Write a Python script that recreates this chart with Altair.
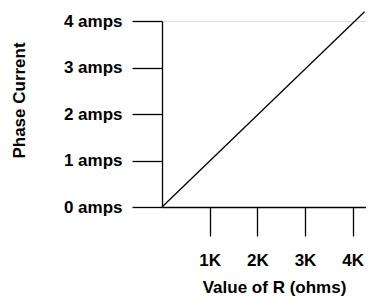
import altair as alt
import pandas as pd

# data
r_kohm = [0.0, 4.25]
current_amps = [0.0, 4.2]
x_ticks = [1, 2, 3, 4]
x_tick_labels = ["1K", "2K", "3K", "4K"]
y_ticks = [0, 1, 2, 3, 4]

df = pd.DataFrame({"r": r_kohm, "amps": current_amps})

FONT = "Liberation Sans"

x_label_expr = "{" + ",".join(f"'{t}':'{l}'" for t, l in zip(x_ticks, x_tick_labels)) + "}[datum.value]"

chart = alt.Chart(df).mark_line(color="black", strokeWidth=1.3, clip=False).encode(
    x=alt.X("r:Q",
            scale=alt.Scale(domain=[0, 4.28], nice=False, zero=True),
            axis=alt.Axis(
                values=x_ticks, labelExpr=x_label_expr,
                title="Value of R (ohms)",
                grid=False, domainColor="black", domainWidth=1.3,
                tickColor="black", tickSize=29, tickWidth=1.3,
                labelFont=FONT, labelFontSize=17, labelFontWeight="bold", labelColor="black",
                labelPadding=16, labelFlush=False,
                titleFont=FONT, titleFontSize=17, titleFontWeight="bold", titleColor="black",
                titleX=112, titleY=85, titleBaseline="alphabetic", titleAlign="center",
            )),
    y=alt.Y("amps:Q",
            scale=alt.Scale(domain=[0, 4], nice=False),
            axis=alt.Axis(
                values=y_ticks, labelExpr="datum.value + ' amps'",
                title="Phase Current",
                grid=False, domainColor="black", domainWidth=1.3,
                tickColor="black", tickSize=30, tickWidth=1.3,
                labelFont=FONT, labelFontSize=17, labelFontWeight="bold", labelColor="black",
                labelPadding=10, labelFlush=False, labelBaseline="middle",
                titleFont=FONT, titleFontSize=17, titleFontWeight="bold", titleColor="black",
                titleAngle=270, titleX=-138, titleY=79, titleBaseline="alphabetic", titleAlign="center",
            )),
).properties(
    width=204, height=186,
    autosize=alt.AutoSizeParams(type="none"),
    padding={"left": 154, "top": 13, "right": 0, "bottom": 90},
).configure_view(stroke=None).configure(background="white")

chart.save("out.html", embed_options={"renderer": "svg", "actions": False})
